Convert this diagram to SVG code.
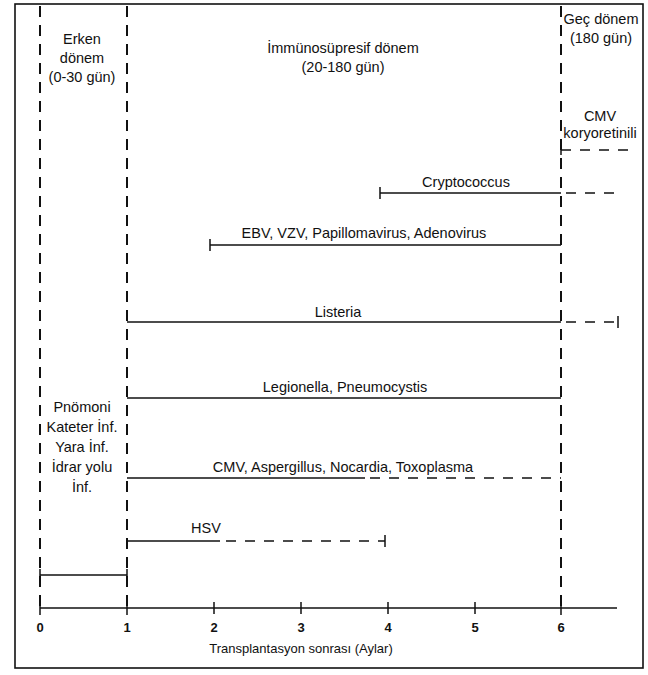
<svg xmlns="http://www.w3.org/2000/svg" width="648" height="675" viewBox="0 0 648 675">
<style>
  text { font-family: "Liberation Sans", Arial, sans-serif; font-size: 14.5px; fill: #111; text-anchor: middle; }
  .num { font-weight: bold; font-size: 13px; }
  .axt { font-size: 13px; }
  .vdash { stroke: #111; stroke-width: 2; stroke-dasharray: 11 8; fill: none; }
  .solid { stroke: #111; stroke-width: 1.5; fill: none; }
  .dash { stroke: #111; stroke-width: 1.5; stroke-dasharray: 10 9; fill: none; }
  .tick { stroke: #111; stroke-width: 1.5; }
</style>
<rect x="0" y="0" width="648" height="675" fill="#fff"/>
<rect x="15" y="4" width="628" height="664" fill="none" stroke="#111" stroke-width="1.6"/>

<g id="periods">
  <line class="vdash" x1="40" y1="6" x2="40" y2="608"/>
  <line class="vdash" x1="127" y1="6" x2="127" y2="608"/>
  <line class="vdash" x1="561" y1="6" x2="561" y2="608"/>
</g>

<g id="axis">
  <line class="solid" x1="40" y1="608" x2="617" y2="608"/>
  <line class="tick" x1="40" y1="601" x2="40" y2="615"/>
  <line class="tick" x1="127" y1="601" x2="127" y2="615"/>
  <line class="tick" x1="214" y1="602" x2="214" y2="614"/>
  <line class="tick" x1="301" y1="602" x2="301" y2="614"/>
  <line class="tick" x1="388" y1="602" x2="388" y2="614"/>
  <line class="tick" x1="475" y1="602" x2="475" y2="614"/>
  <line class="tick" x1="561" y1="601" x2="561" y2="615"/>
  <text class="num" x="40" y="632">0</text>
  <text class="num" x="127" y="632">1</text>
  <text class="num" x="214" y="632">2</text>
  <text class="num" x="301" y="632">3</text>
  <text class="num" x="388" y="632">4</text>
  <text class="num" x="475" y="632">5</text>
  <text class="num" x="561" y="632">6</text>
  <text class="axt" x="301" y="653">Transplantasyon sonrası (Aylar)</text>
</g>

<g id="erken">
  <text x="82" y="44">Erken</text>
  <text x="82" y="63">dönem</text>
  <text x="82" y="82">(0-30 gün)</text>
</g>
<g id="immuno">
  <text x="343" y="53">İmmünosüpresif dönem</text>
  <text x="343" y="72">(20-180 gün)</text>
</g>
<g id="gec">
  <text x="601" y="24">Geç dönem</text>
  <text x="601" y="43">(180 gün)</text>
</g>

<g id="cmv-koryo">
  <text x="600" y="121">CMV</text>
  <text x="600" y="138">koryoretinili</text>
</g>
<g id="cryptococcus"><text x="466" y="187">Cryptococcus</text></g>
<g id="ebv"><text x="364" y="238">EBV, VZV, Papillomavirus, Adenovirus</text></g>
<g id="listeria"><text x="338" y="317">Listeria</text></g>
<g id="legionella"><text x="345" y="392">Legionella, Pneumocystis</text></g>
<g id="cmv-asp"><text x="343" y="472">CMV, Aspergillus, Nocardia, Toxoplasma</text></g>
<g id="hsv"><text x="206" y="533">HSV</text></g>
<g id="early-inf">
  <text x="82" y="412">Pnömoni</text>
  <text x="82" y="432">Kateter İnf.</text>
  <text x="82" y="452">Yara İnf.</text>
  <text x="82" y="472">İdrar yolu</text>
  <text x="82" y="492">İnf.</text>
</g>

<g id="connectors">
  <line class="tick" x1="561" y1="145" x2="561" y2="155"/>
  <line class="dash" x1="561" y1="150" x2="636" y2="150"/>
  <line class="tick" x1="380" y1="187" x2="380" y2="199"/>
  <line class="solid" x1="380" y1="193" x2="561" y2="193"/>
  <line class="dash" x1="566" y1="193" x2="616" y2="193"/>
  <line class="tick" x1="210" y1="239" x2="210" y2="251"/>
  <line class="solid" x1="210" y1="245" x2="561" y2="245"/>
  <line class="solid" x1="127" y1="322" x2="561" y2="322"/>
  <line class="dash" x1="566" y1="322" x2="618" y2="322"/>
  <line class="tick" x1="618" y1="316" x2="618" y2="328"/>
  <line class="solid" x1="127" y1="398" x2="561" y2="398"/>
  <line class="solid" x1="127" y1="478" x2="365" y2="478"/>
  <line class="dash" x1="370" y1="478" x2="561" y2="478"/>
  <line class="solid" x1="127" y1="541" x2="220" y2="541"/>
  <line class="dash" x1="226" y1="541" x2="385" y2="541"/>
  <line class="tick" x1="385" y1="535" x2="385" y2="547"/>
  <line class="solid" x1="40" y1="575" x2="127" y2="575"/>
  <line class="tick" x1="40" y1="569" x2="40" y2="581"/>
  <line class="tick" x1="127" y1="569" x2="127" y2="581"/>
</g>
</svg>
